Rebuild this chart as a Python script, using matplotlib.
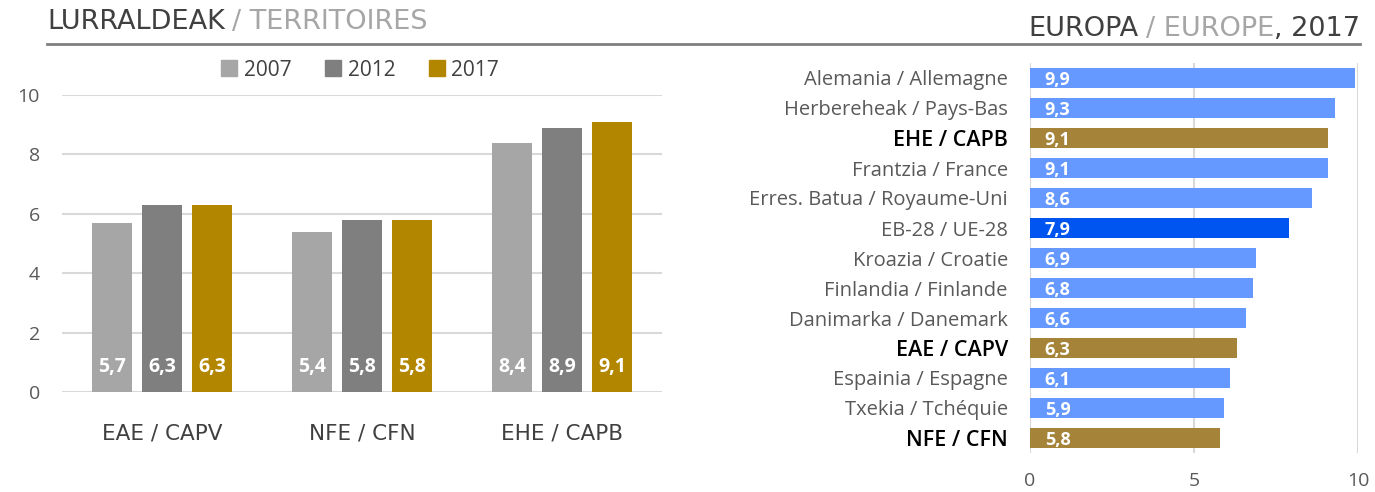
import numpy as np
import matplotlib.pyplot as plt
from matplotlib.patches import Patch

# Left chart data
groups = ['EAE / CAPV', 'NFE / CFN', 'EHE / CAPB']
years = ['2007', '2012', '2017']
v2007 = [5.7, 5.4, 8.4]
v2012 = [6.3, 5.8, 8.9]
v2017 = [6.3, 5.8, 9.1]

# Right chart data
countries = ['Alemania / Allemagne', 'Herbereheak / Pays-Bas', 'EHE / CAPB',
             'Frantzia / France', 'Erres. Batua / Royaume-Uni', 'EB-28 / UE-28',
             'Kroazia / Croatie', 'Finlandia / Finlande', 'Danimarka / Danemark',
             'EAE / CAPV', 'Espainia / Espagne', 'Txekia / Tchéquie', 'NFE / CFN']
europe_vals = [9.9, 9.3, 9.1, 9.1, 8.6, 7.9, 6.9, 6.8, 6.6, 6.3, 6.1, 5.9, 5.8]
territories = ['EHE / CAPB', 'EAE / CAPV', 'NFE / CFN']

YEAR_COLORS = ['#A6A6A6', '#7F7F7F', '#B38600']
BLUE, DARK_BLUE, GOLD = '#6699FF', '#0055F0', '#A5843A'
GRID = '#D9D9D9'
LABEL_FONT = ['Open Sans', 'DejaVu Sans']
HEAD_FONT = ['DejaVu Sans']

W, H = 1375, 492
fig = plt.figure(figsize=(W / 100, H / 100), dpi=100)

def px_axes(x0, y0, x1, y1):
    # pixel box (top-left origin) -> figure axes
    return fig.add_axes([x0 / W, 1 - y1 / H, (x1 - x0) / W, (y1 - y0) / H])

# Headers
fig.add_artist(plt.Line2D([47 / W, 1360 / W], [1 - 44 / H] * 2, color='#808080', lw=2))
t = fig.text(47 / W, 1 - 22 / H, 'LURRALDEAK', fontsize=19.5, color='#404040',
             family=HEAD_FONT, va='center')
fig.canvas.draw()
bb = t.get_window_extent()
fig.text(bb.x1 / W + 0.005, 1 - 22 / H, '/ TERRITOIRES', fontsize=19.5, color='#A6A6A6',
         family=HEAD_FONT, va='center')

t3 = fig.text(1360 / W, 1 - 29 / H, ', 2017', fontsize=19.5, color='#404040',
              family=HEAD_FONT, va='center', ha='right')
fig.canvas.draw()
bb3 = t3.get_window_extent()
t2 = fig.text(bb3.x0 / W, 1 - 29 / H, '/ EUROPE', fontsize=19.5, color='#A6A6A6',
              family=HEAD_FONT, va='center', ha='right')
fig.canvas.draw()
bb2 = t2.get_window_extent()
fig.text(bb2.x0 / W - 0.005, 1 - 29 / H, 'EUROPA', fontsize=19.5, color='#404040',
         family=HEAD_FONT, va='center', ha='right')

# Left chart
ax1 = px_axes(62, 95, 662, 392)
x = np.arange(len(groups))
for i, (vals, col) in enumerate(zip([v2007, v2012, v2017], YEAR_COLORS)):
    pos = x + (i - 1) * 0.25
    ax1.bar(pos, vals, width=0.2, color=col, label=years[i], zorder=3)
    for p, v in zip(pos, vals):
        ax1.text(p, 0.85, f'{v:.1f}'.replace('.', ','), ha='center', va='center',
                 color='white', fontsize=14, fontweight='bold', family=LABEL_FONT, zorder=4)
ax1.set_xlim(-0.5, 2.5)
ax1.set_ylim(0, 10)
ax1.set_yticks(np.arange(0, 11, 2))
ax1.grid(axis='y', color=GRID, lw=1.5, zorder=0)
ax1.set_xticks(x)
ax1.set_xticklabels(groups, family=HEAD_FONT, fontsize=15.5, color='#404040')
ax1.tick_params(axis='x', length=0, pad=23)
ax1.tick_params(axis='y', length=0, pad=16, labelsize=14, labelcolor='#595959')
for lab in ax1.get_yticklabels():
    lab.set_family(LABEL_FONT)
for s in ax1.spines.values():
    s.set_visible(False)
handles = [Patch(color=c, label=y) for c, y in zip(YEAR_COLORS, years)]
fig.legend(handles=handles, loc='center', bbox_to_anchor=(360 / W, 1 - 70 / H), ncol=3,
           frameon=False, prop={'family': LABEL_FONT, 'size': 15}, labelcolor='#404040',
           handlelength=0.8, handleheight=0.8, handletextpad=0.3, columnspacing=1.6)

# Right chart
ax2 = px_axes(1030, 63, 1358, 453)
y = np.arange(len(countries))
colors = []
for c in countries:
    if c in territories:
        colors.append(GOLD)
    elif c.startswith('EB-28'):
        colors.append(DARK_BLUE)
    else:
        colors.append(BLUE)
ax2.barh(y, europe_vals, height=0.66, color=colors, zorder=3)
for yi, v in zip(y, europe_vals):
    ax2.text(0.45, yi + 0.08, f'{v:.1f}'.replace('.', ','), ha='left', va='center',
             color='white', fontsize=13, fontweight='bold', family=LABEL_FONT, zorder=4)
ax2.set_xlim(0, 10)
ax2.set_ylim(len(countries) - 0.5, -0.5)
ax2.set_xticks([0, 5, 10])
ax2.grid(axis='x', color=GRID, lw=1.5, zorder=0)
ax2.set_yticks(y)
ax2.set_yticklabels(countries)
for lab, c in zip(ax2.get_yticklabels(), countries):
    lab.set_family(LABEL_FONT)
    if c in territories:
        lab.set_fontsize(15.5)
        lab.set_fontweight('semibold')
        lab.set_color('black')
    else:
        lab.set_fontsize(14.5)
        lab.set_color('#595959')
ax2.tick_params(axis='y', length=0, pad=16)
ax2.tick_params(axis='x', length=0, pad=14, labelsize=14, labelcolor='#595959')
for lab in ax2.get_xticklabels():
    lab.set_family(LABEL_FONT)
for s in ax2.spines.values():
    s.set_visible(False)

fig.savefig('out.png', dpi=100)
